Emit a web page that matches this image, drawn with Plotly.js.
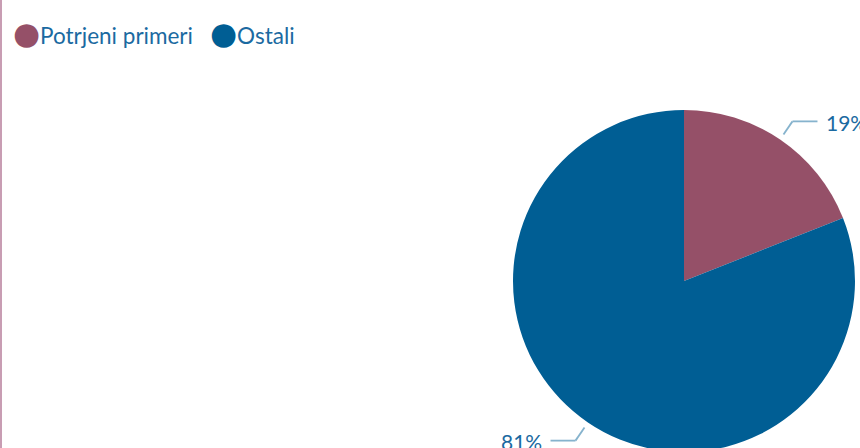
<!DOCTYPE html>
<html>
<head>
<meta charset="utf-8">
<script src="https://cdn.plot.ly/plotly-3.0.1.min.js"></script>
<style>
  html, body { margin: 0; padding: 0; width: 860px; height: 448px; overflow: hidden; background: #fff; }
  #chart { width: 860px; height: 470px; }
  #edge { position: absolute; left: 0; top: 0; width: 2px; height: 448px; background: #c89db3; }
</style>
</head>
<body>
<div id="chart"></div>
<div id="edge"></div>
<script>
const categories = ["Potrjeni primeri", "Ostali"];
const values = [19, 81];
const colors = ["#955068", "#005e94"];

const textColor = "#1b6aa1";
const leaderColor = "#86b3cd";
const fontFamily = "Lato, 'Open Sans', sans-serif";

// figure geometry (pixels)
const W = 860, H = 470;
const pieBox = { left: 513, right: 855, top: 110, bottom: 452 };
const cx = (pieBox.left + pieBox.right) / 2;
const cy = (pieBox.top + pieBox.bottom) / 2;
const R = (pieBox.right - pieBox.left) / 2;
const px = x => x / W;
const py = y => 1 - y / H;

const traces = [{
  type: "pie",
  labels: categories,
  values: values,
  sort: false,
  direction: "clockwise",
  rotation: 0,
  marker: { colors: colors, line: { width: 0 } },
  textinfo: "none",
  hoverinfo: "label+percent",
  showlegend: false,
  domain: { x: [px(pieBox.left), px(pieBox.right)], y: [py(pieBox.bottom), py(pieBox.top)] }
}];

// percentage labels with elbow leader lines, positioned from the slice mid-angles
const total = values.reduce((a, b) => a + b, 0);
const shapes = [];
const annotations = [];
let cum = 0;
values.forEach((v, i) => {
  const mid = (cum + v / 2) / total * 2 * Math.PI;
  cum += v;
  const s = Math.sin(mid), c = Math.cos(mid);
  const dir = s >= 0 ? 1 : -1;
  const p1 = [cx + (R + 6) * s, cy - (R + 6) * c];
  const p2 = [cx + (R + 22) * s, cy - (R + 22) * c];
  const p3 = [p2[0] + dir * 25, p2[1]];
  const line = { color: leaderColor, width: 1.8 };
  shapes.push({ type: "line", xref: "paper", yref: "paper", x0: px(p1[0]), y0: py(p1[1]), x1: px(p2[0]), y1: py(p2[1]), line });
  shapes.push({ type: "line", xref: "paper", yref: "paper", x0: px(p2[0]), y0: py(p2[1]), x1: px(p3[0]), y1: py(p3[1]), line });
  annotations.push({
    xref: "paper", yref: "paper",
    x: px(p3[0] + dir * 7), y: py(p2[1] + 1),
    xanchor: dir > 0 ? "left" : "right", yanchor: "middle",
    showarrow: false,
    text: Math.round(v / total * 100) + "%",
    font: { family: fontFamily, size: 21, color: textColor }
  });
});

// legend (circle markers hugging the text)
const legendX = [11, 208];
categories.forEach((c, i) => {
  annotations.push({
    xref: "paper", yref: "paper",
    x: px(legendX[i]), y: py(33),
    xanchor: "left", yanchor: "middle",
    showarrow: false,
    text: '<span style="color:' + colors[i] + ';font-size:31px;font-family:DejaVu Sans">●</span>' + c,
    font: { family: fontFamily, size: 22.5, color: textColor }
  });
});

const layout = {
  width: W,
  height: H,
  margin: { l: 0, r: 0, t: 0, b: 0 },
  paper_bgcolor: "#ffffff",
  plot_bgcolor: "#ffffff",
  showlegend: false,
  shapes: shapes,
  annotations: annotations,
  font: { family: fontFamily }
};

Plotly.newPlot("chart", traces, layout, { displayModeBar: false, staticPlot: true });
</script>
</body>
</html>
